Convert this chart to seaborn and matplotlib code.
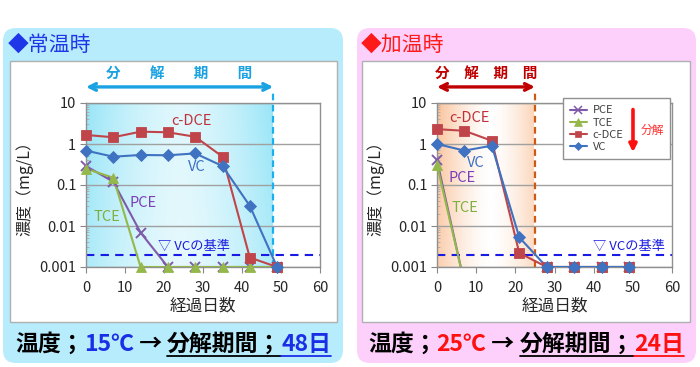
import numpy as np
import pandas as pd
import matplotlib
matplotlib.use("Agg")
import matplotlib.pyplot as plt
import seaborn as sns
from matplotlib.patches import FancyBboxPatch, Rectangle
from matplotlib.lines import Line2D
from matplotlib.transforms import blended_transform_factory

# ---------------- data ----------------
days = [0, 7, 14, 21, 28, 35, 42, 49]
series_names = ["PCE", "TCE", "c-DCE", "VC"]
# 15 degC (room temperature)
pce_15 = [0.29, 0.12, 0.0069, 0.001, 0.001, 0.001, 0.001, 0.001]
tce_15 = [0.25, 0.15, 0.001, 0.001, 0.001, 0.001, 0.001, 0.001]
dce_15 = [1.66, 1.46, 2.0, 1.93, 1.5, 0.49, 0.0017, 0.001]
vc_15 = [0.69, 0.49, 0.54, 0.53, 0.59, 0.29, 0.031, 0.001]
# 25 degC (heated)
pce_25 = [0.40, 0.0004, 0.0004, 0.0004, 0.001, 0.001, 0.001, 0.001]
tce_25 = [0.31, 0.0004, 0.0004, 0.0004, 0.001, 0.001, 0.001, 0.001]
dce_25 = [2.3, 2.1, 1.2, 0.0022, 0.001, 0.001, 0.001, 0.001]
vc_25 = [1.0, 0.69, 0.91, 0.0053, 0.001, 0.001, 0.001, 0.001]
vc_standard = 0.002
period_15 = 48
period_25 = 25
x_ticks = [0, 10, 20, 30, 40, 50, 60]
y_ticks = [0.001, 0.01, 0.1, 1, 10]
y_ticklabels = ["0.001", "0.01", "0.1", "1", "10"]

# ---------------- style ----------------
sns.set_style("white")
plt.rcParams["font.family"] = ["Noto Sans CJK JP", "DejaVu Sans"]

colors = {"PCE": "#7f5aa8", "TCE": "#94b84a", "c-DCE": "#c0454a", "VC": "#3f72c0"}
markers = {"PCE": "x", "TCE": "^", "c-DCE": "s", "VC": "D"}
msizes = {"PCE": 7, "TCE": 7.5, "c-DCE": 6.5, "VC": 6}

W, H = 700, 367
fig = plt.figure(figsize=(W / 100, H / 100), dpi=100)


def px_box(x0, y0, x1, y1, **kw):
    # pixel coords from top-left -> inches
    return FancyBboxPatch((x0 / 100, (H - y1) / 100), (x1 - x0) / 100, (y1 - y0) / 100,
                          transform=fig.dpi_scale_trans, zorder=-10, **kw)


# panel backgrounds
fig.add_artist(px_box(3, 28, 343, 363, boxstyle="round,pad=0,rounding_size=0.13",
                      facecolor="#b6ecfc", edgecolor="none"))
fig.add_artist(px_box(357, 28, 696, 363, boxstyle="round,pad=0,rounding_size=0.13",
                      facecolor="#fdd0fc", edgecolor="none"))
fig.add_artist(px_box(10, 61, 337, 322, boxstyle="square,pad=0",
                      facecolor="white", edgecolor="#b0b0b0", linewidth=1))
fig.add_artist(px_box(362, 61, 690, 322, boxstyle="square,pad=0",
                      facecolor="white", edgecolor="#b0b0b0", linewidth=1))

# titles
fig.text(8 / W, 1 - 45 / H, "◆常温時", color="#1f35e8", fontsize=15, va="center", ha="left")
fig.text(361 / W, 1 - 45 / H, "◆加温時", color="#ff1a1a", fontsize=15, va="center", ha="left")

ax1 = fig.add_axes([86 / W, (H - 267) / H, 234 / W, 164 / H])
ax2 = fig.add_axes([437 / W, (H - 267) / H, 235 / W, 164 / H])


def gradient(ax, x1, base, profile):
    u = np.linspace(0, 1, 300)
    v = np.linspace(0, 1, 120)[:, None]
    t = profile(u)[None, :] * (0.80 + 0.20 * v)
    t = np.clip(t, 0, 1)
    base = np.array(base)
    rgb = 1 - t[..., None] * (1 - base)
    tr = blended_transform_factory(ax.transData, ax.transAxes)
    ax.imshow(rgb, extent=(0, x1, 0, 1), origin="lower", aspect="auto",
              transform=tr, zorder=0, interpolation="bilinear")


def draw_panel(ax, data, period, pcolor, vline_color, arrow_color, arrow_text, arrow_fs):
    gradient(ax, period, *pcolor)
    ax.set_yscale("log")
    for name, vals in zip(series_names, data):
        sns.lineplot(x=days, y=vals, ax=ax, color=colors[name], linewidth=1.5,
                     label=name, legend=False, zorder=3)
    for name, vals in zip(series_names, data):
        d_in = [d for d, v in zip(days, vals) if v >= 0.001]
        v_in = [v for v in vals if v >= 0.001]
        sns.lineplot(x=d_in, y=v_in, ax=ax, color=colors[name], marker=markers[name],
                     markersize=msizes[name], markeredgewidth=1.4 if name == "PCE" else 0.6,
                     markeredgecolor=colors[name], linewidth=0, legend=False,
                     zorder=4, clip_on=False)
    ax.set_xlim(0, 60)
    ax.set_ylim(0.001, 10)
    ax.set_xticks(x_ticks)
    ax.set_xticklabels([str(t) for t in x_ticks])
    ax.set_yticks(y_ticks)
    ax.set_yticklabels(y_ticklabels)
    ax.yaxis.set_minor_locator(matplotlib.ticker.LogLocator(base=10, subs=np.arange(2, 10)))
    ax.yaxis.set_minor_formatter(matplotlib.ticker.NullFormatter())
    ax.tick_params(axis="both", which="major", labelsize=10.5, length=4, color="#888888",
                   direction="out", pad=3)
    ax.tick_params(axis="x", which="major", pad=6)
    ax.tick_params(axis="y", which="minor", length=2.5, color="#aaaaaa", direction="in",
                   left=True)
    ax.tick_params(axis="x", which="major", bottom=True)
    ax.tick_params(axis="y", which="major", left=True)
    ax.grid(True, axis="y", which="major", color="#a0a0a0", linewidth=1)
    ax.grid(False, axis="x")
    for s in ax.spines.values():
        s.set_color("#909090")
        s.set_linewidth(1)
    ax.set_xlabel("経過日数", fontsize=12, labelpad=2)
    ax.set_ylabel("濃度（mg/L）", fontsize=11.5, labelpad=4)
    ax.set_facecolor("white")
    # standard line
    ax.axhline(vc_standard, color="#1a1ae6", linestyle=(0, (4, 3)), linewidth=1.5, zorder=2)
    # decomposition period
    tr = blended_transform_factory(ax.transData, ax.transAxes)
    ax.plot([period, period], [0, 1.065], transform=tr,
            color=vline_color, linestyle=(0, (3, 2)), linewidth=1.6, clip_on=False, zorder=2.5)
    ax.annotate("", xy=(period, 1.098), xytext=(0, 1.098), xycoords=tr, textcoords=tr,
                arrowprops=dict(arrowstyle="<->", color=arrow_color, lw=2.4,
                                mutation_scale=12, shrinkA=0, shrinkB=0),
                annotation_clip=False)
    ax.text(period / 2, 1.185, arrow_text, transform=tr, ha="center", va="center",
            color=arrow_color, fontsize=arrow_fs, fontweight="bold")


cyan_prof = lambda u: 0.32 + 0.68 * np.abs(2 * u - 1) ** 1.6
orange_prof = lambda u: np.clip(np.abs(2 * u - 1.1) ** 1.5 * 0.85, 0, 1)

draw_panel(ax1, [pce_15, tce_15, dce_15, vc_15], period_15,
           ((0.60, 0.90, 0.97), cyan_prof), "#18b0ee", "#1aa2e2", "分　　解　　期　　間", 10.5)
draw_panel(ax2, [pce_25, tce_25, dce_25, vc_25], period_25,
           ((0.98, 0.76, 0.60), orange_prof), "#cc5a14", "#c00000", "分　解　期　間", 10.5)

# series labels (left)
lab_fs = 10.5
ax1.text(27, 3.6, "c-DCE", color="#c0303a", fontsize=lab_fs, ha="center", va="center")
ax1.text(28.5, 0.28, "VC", color="#3a6fc4", fontsize=lab_fs, ha="center", va="center")
ax1.text(14.7, 0.036, "PCE", color="#7b3fb8", fontsize=lab_fs, ha="center", va="center")
ax1.text(5.3, 0.017, "TCE", color="#80b040", fontsize=lab_fs, ha="center", va="center")
ax1.text(27.7, 0.0031, "▽ VCの基準", color="#1a1ae0", fontsize=9.5, ha="center", va="center")
# series labels (right)
ax2.text(8.4, 4.4, "c-DCE", color="#c0303a", fontsize=lab_fs, ha="center", va="center")
ax2.text(9.9, 0.34, "VC", color="#3a6fc4", fontsize=lab_fs, ha="center", va="center")
ax2.text(6.3, 0.15, "PCE", color="#7b3fb8", fontsize=lab_fs, ha="center", va="center")
ax2.text(7.2, 0.028, "TCE", color="#80b040", fontsize=lab_fs, ha="center", va="center")
ax2.text(49, 0.0031, "▽ VCの基準", color="#1a1ae0", fontsize=9.5, ha="center", va="center")

# legend on right panel
ax2.add_patch(Rectangle((0.536, 0.659), 0.455, 0.371, transform=ax2.transAxes,
                        facecolor="white", edgecolor="#909090", linewidth=1,
                        clip_on=False, zorder=4.5))
handles = [Line2D([0], [0], color=colors[n], marker=markers[n], markersize=msizes[n] - 1.5,
                  markeredgewidth=1.1 if n == "PCE" else 0.5, markeredgecolor=colors[n],
                  linewidth=1.5) for n in series_names]
leg = ax2.legend(handles, series_names, loc="upper left", bbox_to_anchor=(0.545, 1.012),
                 frameon=False, fontsize=8, handlelength=1.6, labelspacing=0.2,
                 handletextpad=0.5, borderaxespad=0)
for t in leg.get_texts():
    t.set_color("#404040")
leg.set_zorder(6)
ax2.annotate("", xy=(0.834, 0.70), xytext=(0.834, 0.96), xycoords="axes fraction",
             arrowprops=dict(arrowstyle="-|>", color="#ff1010", lw=2.6, mutation_scale=11,
                             shrinkA=0, shrinkB=0), zorder=7, annotation_clip=False)
ax2.text(0.917, 0.83, "分解", transform=ax2.transAxes, color="#ff3030", fontsize=8.5,
         ha="center", va="center", zorder=7)

# bottom rich texts
renderer = fig.canvas.get_renderer()


def rich(x_px, parts, size=16.5):
    y = (H - 351) / H
    uy = (H - 356) / H
    x = x_px
    for txt, col, ul in parts:
        t = fig.text(x / W, y, txt, color=col, fontsize=size, fontweight="bold",
                     ha="left", va="baseline")
        bb = t.get_window_extent(renderer)
        if ul:
            fig.add_artist(Line2D([bb.x0 / W, bb.x1 / W], [uy, uy], color=col, lw=1.3))
        x += bb.width


rich(15, [("温度；", "black", False), ("15℃", "#1a2ee6", False), (" → ", "black", False),
          ("分解期間；", "black", True), ("48日", "#1a2ee6", True)])
rich(368, [("温度；", "black", False), ("25℃", "#ff1010", False), (" → ", "black", False),
           ("分解期間；", "black", True), ("24日", "#ff1010", True)])

fig.savefig("out.png", dpi=100)
